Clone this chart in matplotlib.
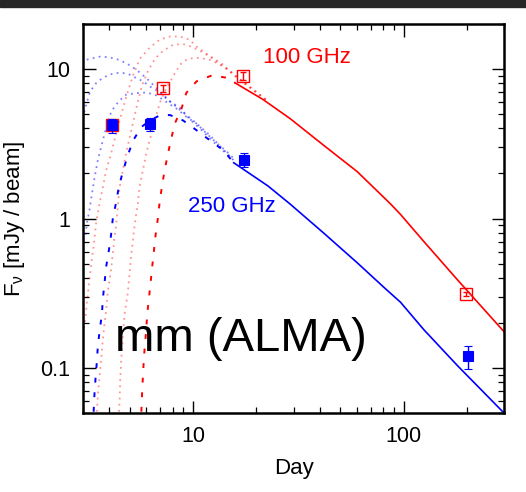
import matplotlib
matplotlib.use('Agg')
import matplotlib.pyplot as plt
from matplotlib.patches import Rectangle
from matplotlib.ticker import NullFormatter, FixedLocator, FixedFormatter

plt.rcParams['font.family'] = ['Liberation Sans', 'DejaVu Sans']
plt.rcParams['mathtext.fontset'] = 'custom'
plt.rcParams['mathtext.rm'] = 'Liberation Sans'
plt.rcParams['mathtext.it'] = 'Liberation Sans'

# ---------------- data ----------------
# observations (day, flux, err_low, err_high)
obs100_day = [4.1, 7.22, 17.3, 199]
obs100_flux = [4.2, 7.43, 8.93, 0.312]
obs100_lo = [0.3, 0.43, 0.53, 0.01]
obs100_hi = [0.3, 0.40, 0.57, 0.01]

obs250_day = [4.13, 6.24, 17.4, 203]
obs250_flux = [4.25, 4.30, 2.48, 0.121]
obs250_lo = [0.49, 0.45, 0.26, 0.022]
obs250_hi = [0.37, 0.42, 0.27, 0.020]

# 100 GHz model, solid (late part)
red_solid_day = [15.85, 21.5, 28.9, 41.7, 60.2, 86.8, 97, 125, 180, 300]
red_solid_flux = [8.07, 6.25, 4.66, 3.09, 2.06, 1.25, 1.06, 0.70, 0.39, 0.175]
# 100 GHz model, dashed (early part)
red_dash_day = [5.68, 5.72, 5.78, 5.85, 5.96, 6.06, 6.17, 6.29, 6.40, 6.52, 6.64,
                6.81, 6.93, 7.11, 7.33, 7.60, 7.88, 8.19, 8.79, 9.29, 10.4, 12.3,
                14.7, 15.85]
red_dash_flux = [0.051, 0.0658, 0.0894, 0.121, 0.165, 0.230, 0.293, 0.376, 0.481,
                 0.611, 0.780, 1.01, 1.27, 1.63, 2.11, 2.72, 3.43, 4.32, 5.37, 6.93,
                 8.28, 9.06, 8.71, 8.07]
# 100 GHz alternative models (dotted)
red_dot1_day = [2.99, 3.08, 3.13, 3.20, 3.31, 3.37, 3.47, 3.60, 3.73, 3.87, 4.08,
                4.31, 4.59, 4.85, 5.18, 5.59, 6.22, 6.94, 7.75, 8.65, 9.64, 10.4,
                11.2, 12.5, 13.9, 15.0, 16.7, 18.7, 22.4]
red_dot1_flux = [0.169, 0.212, 0.274, 0.363, 0.547, 0.653, 0.953, 1.27, 1.63, 2.11,
                 2.72, 3.70, 5.13, 6.74, 9.03, 11.7, 13.9, 15.7, 16.5, 16.5, 15.7,
                 14.1, 13.1, 11.8, 10.7, 9.64, 8.49, 7.52, 6.16]
red_dot2_day = [3.49, 3.53, 3.60, 3.66, 3.73, 3.80, 3.87, 3.94, 4.08, 4.16, 4.24,
                4.31, 4.48, 4.64, 4.81, 5.00, 5.18, 5.41, 5.72, 6.11, 6.59, 7.19,
                8.03, 8.96, 9.82, 10.8, 12.0, 13.4, 15.0, 16.7, 18.7, 22.4]
red_dot2_flux = [0.051, 0.0658, 0.0894, 0.115, 0.157, 0.200, 0.248, 0.328, 0.457,
                 0.590, 0.761, 0.91, 1.63, 2.11, 2.74, 3.50, 4.34, 5.70, 7.75, 9.74,
                 11.7, 13.2, 14.5, 14.7, 14.1, 13.2, 12.1, 10.8, 9.70, 8.55, 7.58,
                 6.20]
red_dot3_day = [4.45, 4.48, 4.51, 4.56, 4.64, 4.73, 4.90, 5.08, 5.28, 5.47, 5.57,
                5.78, 5.99, 6.22, 6.59, 6.96, 7.44, 8.03, 8.67, 9.36, 10.2, 11.0,
                12.0, 13.0, 13.9, 15.0, 16.7, 18.7, 22.4]
red_dot3_flux = [0.051, 0.0625, 0.0849, 0.115, 0.165, 0.230, 0.320, 0.560, 0.91,
                 1.27, 1.63, 2.11, 2.72, 3.34, 4.53, 5.97, 7.40, 8.89, 10.7, 11.6,
                 11.9, 11.8, 11.5, 10.96, 10.4, 9.55, 8.40, 7.45, 6.12]

# 250 GHz model, solid (late part)
blue_solid_day = [15.6, 22.7, 28.9, 41.7, 60.2, 80, 96.8, 125, 180, 300]
blue_solid_flux = [2.36, 1.65, 1.25, 0.80, 0.506, 0.35, 0.275, 0.18, 0.104, 0.05]
# 250 GHz model, dashed (early part)
blue_dash_day = [3.37, 3.40, 3.44, 3.49, 3.53, 3.60, 3.69, 3.73, 3.80, 3.87, 3.98,
                 4.08, 4.16, 4.31, 4.44, 4.64, 4.90, 5.18, 5.68, 6.24, 6.96, 7.77,
                 8.96, 10.4, 12.0, 13.9, 15.6]
blue_dash_flux = [0.051, 0.0665, 0.0849, 0.110, 0.141, 0.178, 0.230, 0.293, 0.376,
                  0.481, 0.611, 0.780, 1.01, 1.28, 1.63, 2.06, 2.65, 3.31, 4.09,
                  4.53, 4.90, 4.92, 4.53, 3.89, 3.34, 2.87, 2.36]
# 250 GHz alternative models (dotted)
blue_dot1_day = [2.99, 3.09, 3.35, 3.61, 3.94, 4.31, 4.81, 5.38, 5.99, 6.57, 7.75,
                 8.65, 9.64, 10.8, 12.5, 15.5]
blue_dot1_flux = [10.8, 11.5, 11.8, 12.1, 12.0, 11.7, 10.96, 9.89, 8.71, 7.66, 6.09,
                  5.51, 4.61, 3.99, 3.25, 2.47]
blue_dot2_day = [2.99, 3.11, 3.24, 3.47, 3.72, 4.01, 4.31, 4.65, 4.99, 5.37, 5.78,
                 6.22, 6.72, 8.36, 10.0, 12.0, 15.5]
blue_dot2_flux = [4.68, 5.80, 7.06, 8.07, 8.71, 9.17, 9.40, 9.40, 9.17, 8.71, 8.28,
                  7.66, 7.18, 5.56, 4.53, 3.61, 2.47]
blue_dot3_day = [2.99, 3.08, 3.13, 3.22, 3.31, 3.41, 3.53, 3.66, 3.80, 4.09, 4.44,
                 4.81, 5.39, 6.02, 6.72, 7.49, 8.36, 9.33, 10.4, 11.6, 13.0, 14.5,
                 15.6]
blue_dot3_flux = [0.72, 0.76, 0.93, 1.14, 1.47, 1.90, 2.46, 3.02, 3.70, 5.22, 6.09,
                  6.74, 6.90, 6.96, 6.65, 6.00, 5.42, 4.77, 4.31, 3.70, 3.18, 2.79,
                  2.52]

x_ticks = [10, 100]
x_ticklabels = ['10', '100']
y_ticks = [0.1, 1, 10]
y_ticklabels = ['0.1', '1', '10']

RED = '#ff0000'
BLUE = '#0000ff'

# ---------------- figure ----------------
fig = plt.figure(figsize=(5.26, 4.92), dpi=100)
fig.add_artist(Rectangle((0, 1 - 7 / 492), 1, 7 / 492, transform=fig.transFigure,
                         color='#262626', zorder=10))
ax = fig.add_axes([83 / 526, 1 - 413 / 492, 421 / 526, 389 / 492])
ax.set_xscale('log')
ax.set_yscale('log')
ax.set_xlim(3, 300)
ax.set_ylim(0.05, 20)

dot_style = dict(linestyle=(0, (1, 2.4)), lw=1.3)
for d, f in [(red_dot1_day, red_dot1_flux), (red_dot2_day, red_dot2_flux),
             (red_dot3_day, red_dot3_flux)]:
    ax.plot(d, f, color=RED, alpha=0.42, **dot_style)
for d, f in [(blue_dot1_day, blue_dot1_flux), (blue_dot2_day, blue_dot2_flux),
             (blue_dot3_day, blue_dot3_flux)]:
    ax.plot(d, f, color=BLUE, alpha=0.5, **dot_style)

ax.plot(red_dash_day, red_dash_flux, color=RED, lw=1.4, linestyle=(0, (2.5, 5)))
ax.plot(blue_dash_day, blue_dash_flux, color=BLUE, lw=1.4, linestyle=(0, (2.5, 5)))
ax.plot(red_solid_day, red_solid_flux, color=RED, lw=1.2)
ax.plot(blue_solid_day, blue_solid_flux, color=BLUE, lw=1.2)

ax.errorbar(obs100_day, obs100_flux, yerr=[obs100_lo, obs100_hi], fmt='s',
            mfc='none', mec=RED, ecolor=RED, ms=8.5, mew=1.0, elinewidth=1.0,
            capsize=2.2, capthick=1.0, zorder=5)
ax.errorbar(obs250_day, obs250_flux, yerr=[obs250_lo, obs250_hi], fmt='s',
            mfc=BLUE, mec=BLUE, ecolor=BLUE, ms=6.5, mew=0.8, elinewidth=1.0,
            capsize=3, capthick=1.0, zorder=6)

ax.text(0.532, 0.915, '100 GHz', color=RED, fontsize=16, ha='center', va='center',
        transform=ax.transAxes)
ax.text(0.353, 0.532, '250 GHz', color=BLUE, fontsize=16, ha='center', va='center',
        transform=ax.transAxes)
ax.text(0.076, 0.159, 'mm (ALMA)', color='black', fontsize=34, ha='left',
        va='baseline', transform=ax.transAxes)

ax.xaxis.set_major_locator(FixedLocator(x_ticks))
ax.xaxis.set_major_formatter(FixedFormatter(x_ticklabels))
ax.yaxis.set_major_locator(FixedLocator(y_ticks))
ax.yaxis.set_major_formatter(FixedFormatter(y_ticklabels))
ax.xaxis.set_minor_formatter(NullFormatter())
ax.yaxis.set_minor_formatter(NullFormatter())

ax.tick_params(which='both', direction='in', top=True, right=True, colors='black')
ax.tick_params(which='major', length=9, width=1.0, labelsize=15.5, pad=9)
ax.tick_params(which='minor', length=4.5, width=0.9)
for s in ax.spines.values():
    s.set_linewidth(1.8)

ax.set_xlabel('Day', fontsize=16, labelpad=8)
ax.set_ylabel(r'F$_{\mathrm{\nu}}$ [mJy / beam]', fontsize=16, labelpad=10)

fig.savefig('out.png', dpi=100)
